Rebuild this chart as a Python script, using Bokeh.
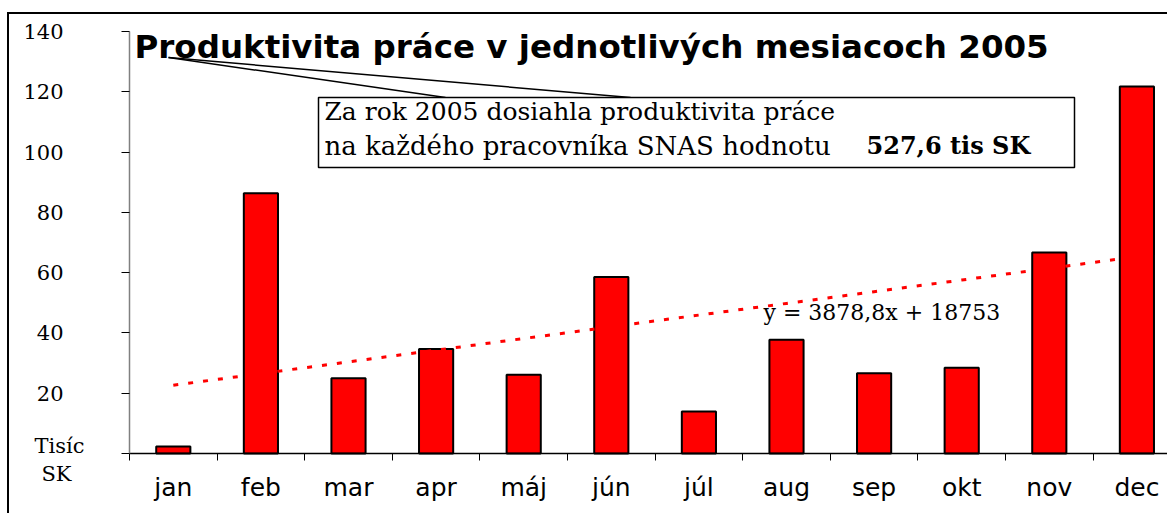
from bokeh.plotting import figure
from bokeh.models import Range1d, FixedTicker, Label, ColumnDataSource
from bokeh.embed import file_html
from bokeh.resources import INLINE

# ---------------- data ----------------
months = ["jan", "feb", "mar", "apr", "máj", "jún", "júl", "aug", "sep", "okt", "nov", "dec"]
values = [2.3, 86.3, 25.0, 34.7, 26.1, 58.5, 13.9, 37.7, 26.6, 28.4, 66.7, 121.7]
y_ticks = [0, 20, 40, 60, 80, 100, 120, 140]
trend_slope = 3878.8      # SK per month index
trend_intercept = 18753   # SK
title_text = "Produktivita práce v jednotlivých mesiacoch 2005"
note_line1 = "Za rok 2005 dosiahla produktivita práce"
note_line2 = "na každého pracovníka SNAS  hodnotu"
note_value = "527,6 tis SK"
equation_text = "y = 3878,8x + 18753"
unit_line1 = "Tisíc"
unit_line2 = "SK"

# ---------------- layout geometry (page pixels) ----------------
OFF_X, OFF_Y = 7, 12          # figure origin on the page (border drawn there)
BORDER = 2
CANVAS_X, CANVAS_Y = OFF_X + BORDER, OFF_Y + BORDER
W, H = 1169 - CANVAS_X, 515 - CANVAS_Y
AXIS_X, BASE_Y = 129, 453     # page position of the value axis and the baseline
CAT_PX = 87.6                 # pixels per category
UNIT_PX = 3.015               # pixels per y unit

def dx(px):
    return (px - AXIS_X) / CAT_PX

def dy(py):
    return (BASE_Y - py) / UNIT_PX

x_centers = [i + 0.5 for i in range(len(months))]
src = ColumnDataSource(dict(x=x_centers, v=values))

p = figure(width=W, height=H, output_backend="svg", toolbar_location=None,
           x_range=Range1d(dx(CANVAS_X), dx(1169)),
           y_range=Range1d(dy(515), dy(CANVAS_Y)),
           min_border_left=0, min_border_top=0, min_border_bottom=0,
           min_border_right=0)
p.margin = (OFF_Y, 0, 0, OFF_X)
p.outline_line_color = None
p.xgrid.visible = False
p.ygrid.visible = False
p.background_fill_color = "white"
p.border_fill_color = "white"
p.styles = {"border-top": "2px solid black", "border-left": "2px solid black"}

# bars
p.vbar(x="x", top="v", width=0.39, bottom=0, source=src,
       fill_color="#FF0000", line_color="black", line_width=2)

# trend line from the regression equation (values in thousands SK)
tx = [i + 0.5 for i in range(len(months))]
ty = [(trend_slope * (i + 1) + trend_intercept) / 1000 for i in range(len(months))]
p.line(tx, ty, line_color="#FF0000", line_width=3, line_dash="5 10")

# callout box and pointer lines
p.segment(x0=[dx(168), dx(168)], y0=[dy(57), dy(57)],
          x1=[dx(445), dx(630)], y1=[dy(97), dy(97)],
          line_color="black", line_width=1.5)
p.quad(left=[dx(318)], right=[dx(1074)], top=[dy(97)], bottom=[dy(167)],
       fill_color="white", line_color="black", line_width=1.5)

serif = "DejaVu Serif"
p.add_layout(Label(x=dx(324), y=dy(111), text=note_line1, text_font=serif,
                   text_font_size="25px", text_baseline="middle", text_color="black"))
p.add_layout(Label(x=dx(324), y=dy(145), text=note_line2, text_font=serif,
                   text_font_size="26px", text_baseline="middle", text_color="black"))
p.add_layout(Label(x=dx(866), y=dy(145), text=note_value, text_font=serif,
                   text_font_size="24px", text_font_style="bold",
                   text_baseline="middle", text_color="black"))

# title
p.add_layout(Label(x=dx(134), y=dy(46), text=title_text, text_font="DejaVu Sans",
                   text_font_size="32.5px", text_font_style="bold",
                   text_baseline="middle", text_color="black"))

# equation
p.add_layout(Label(x=dx(763), y=dy(312), text=equation_text, text_font=serif,
                   text_font_size="22px", text_baseline="middle", text_color="black"))

# unit label at the bottom left
p.add_layout(Label(x=dx(59), y=dy(445), text=unit_line1, text_font=serif,
                   text_font_size="21px", text_align="center",
                   text_baseline="middle", text_color="black"))
p.add_layout(Label(x=dx(56), y=dy(473), text=unit_line2, text_font=serif,
                   text_font_size="21px", text_align="center",
                   text_baseline="middle", text_color="black"))

# y axis (fixed at the start of the category axis)
ya = p.yaxis[0]
ya.fixed_location = 0
ya.ticker = FixedTicker(ticks=y_ticks)
ya.bounds = (0, y_ticks[-1])
ya.major_label_overrides = {0: ""}
ya.axis_line_color = "#808080"
ya.axis_line_width = 1.5
ya.major_tick_line_color = "black"
ya.major_tick_in = 0
ya.major_tick_out = 8
ya.minor_tick_line_color = None
ya.major_label_standoff = 58
ya.major_label_text_font = serif
ya.major_label_text_font_size = "21px"
ya.major_label_text_color = "black"

# x axis (fixed at value 0)
xa = p.xaxis[0]
xa.fixed_location = 0
xa.bounds = (0, dx(1169))
xa.ticker = FixedTicker(ticks=x_centers, minor_ticks=list(range(len(months) + 1)))
xa.major_label_overrides = {x: m for x, m in zip(x_centers, months)}
xa.axis_line_color = "black"
xa.axis_line_width = 1.5
xa.major_tick_line_color = None
xa.major_tick_in = 0
xa.major_tick_out = 7
xa.minor_tick_line_color = "black"
xa.minor_tick_in = 0
xa.minor_tick_out = 7
xa.major_label_standoff = 12
xa.major_label_text_font = "DejaVu Sans"
xa.major_label_text_font_size = "25px"
xa.major_label_text_color = "black"

open("out.html", "w").write(file_html(p, INLINE))
